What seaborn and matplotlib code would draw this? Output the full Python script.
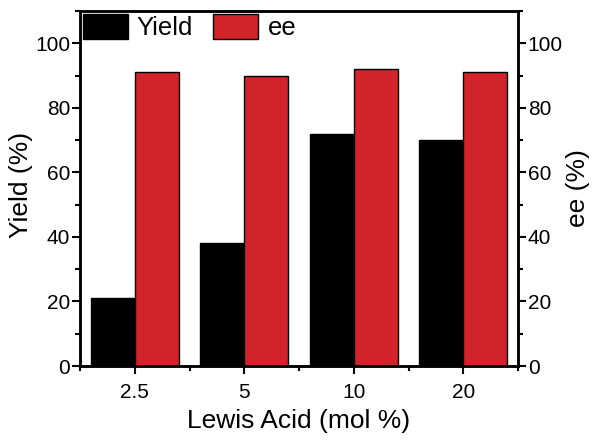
import matplotlib
matplotlib.use("Agg")
import matplotlib.pyplot as plt
import seaborn as sns
import pandas as pd
from matplotlib.ticker import MultipleLocator, FixedLocator

categories = ["2.5", "5", "10", "20"]
yield_vals = [21, 38, 72, 70]
ee_vals = [91, 90, 92, 91]
series_names = ["Yield", "ee"]
colors = ["#000000", "#d2232a"]

sns.set_theme(style="white")
plt.rcParams['font.family'] = ['Liberation Sans', 'DejaVu Sans']
plt.rcParams.update({
    "text.color": "black",
    "axes.labelcolor": "black",
    "xtick.color": "black",
    "ytick.color": "black",
    "axes.edgecolor": "black",
})

df = pd.DataFrame({
    "cat": categories * 2,
    "val": yield_vals + ee_vals,
    "series": [series_names[0]] * 4 + [series_names[1]] * 4,
})

fig = plt.figure(figsize=(6.02, 4.43), dpi=100)
ax = fig.add_axes([80/602, 1 - 366/443, 438/602, 355/443])
sns.barplot(data=df, x="cat", y="val", hue="series", palette=colors,
            width=0.8, edgecolor="black", linewidth=1.0, ax=ax, saturation=1)

ax.set_xlim(-0.5, 3.5)
ax.set_ylim(0, 110)
ax.set_yticks([0, 20, 40, 60, 80, 100])
ax.yaxis.set_minor_locator(MultipleLocator(10))
ax.xaxis.set_minor_locator(FixedLocator([-0.5, 0.5, 1.5, 2.5, 3.5]))
ax.set_xlabel("Lewis Acid (mol %)", fontsize=19, labelpad=5)
ax.set_ylabel("Yield (%)", fontsize=19)
ax.yaxis.set_label_coords(-0.107, 0.51)
ax.tick_params(axis="x", which="major", direction="out", length=6, width=1.5,
               labelsize=15, bottom=True, pad=6)
ax.tick_params(axis="y", which="major", direction="out", length=6, width=1.5,
               labelsize=15, left=True, pad=1)
ax.tick_params(axis="both", which="minor", direction="out", length=3.5, width=1.5,
               left=True, bottom=True)
for s in ax.spines.values():
    s.set_linewidth(1.8)
    s.set_color("black")

ax2 = ax.twinx()
ax2.set_ylim(0, 110)
ax2.set_yticks([0, 20, 40, 60, 80, 100])
ax2.yaxis.set_minor_locator(MultipleLocator(10))
ax2.set_ylabel("ee (%)", fontsize=19, labelpad=2)
ax2.tick_params(axis="y", which="major", direction="out", length=6, width=1.5,
                labelsize=15, right=True, pad=1)
ax2.tick_params(axis="y", which="minor", direction="out", length=3.5, width=1.5, right=True)
for s in ax2.spines.values():
    s.set_linewidth(1.8)
    s.set_color("black")

handles, labels = ax.get_legend_handles_labels()
ax.legend(handles, labels, loc="upper left", bbox_to_anchor=(0.0, 1.0), ncol=2,
          frameon=False, fontsize=18.5, handlelength=1.75, handleheight=1.15,
          handletextpad=0.35, columnspacing=0.8, borderaxespad=0.0, borderpad=0.1)

fig.savefig("out.png", dpi=100)
